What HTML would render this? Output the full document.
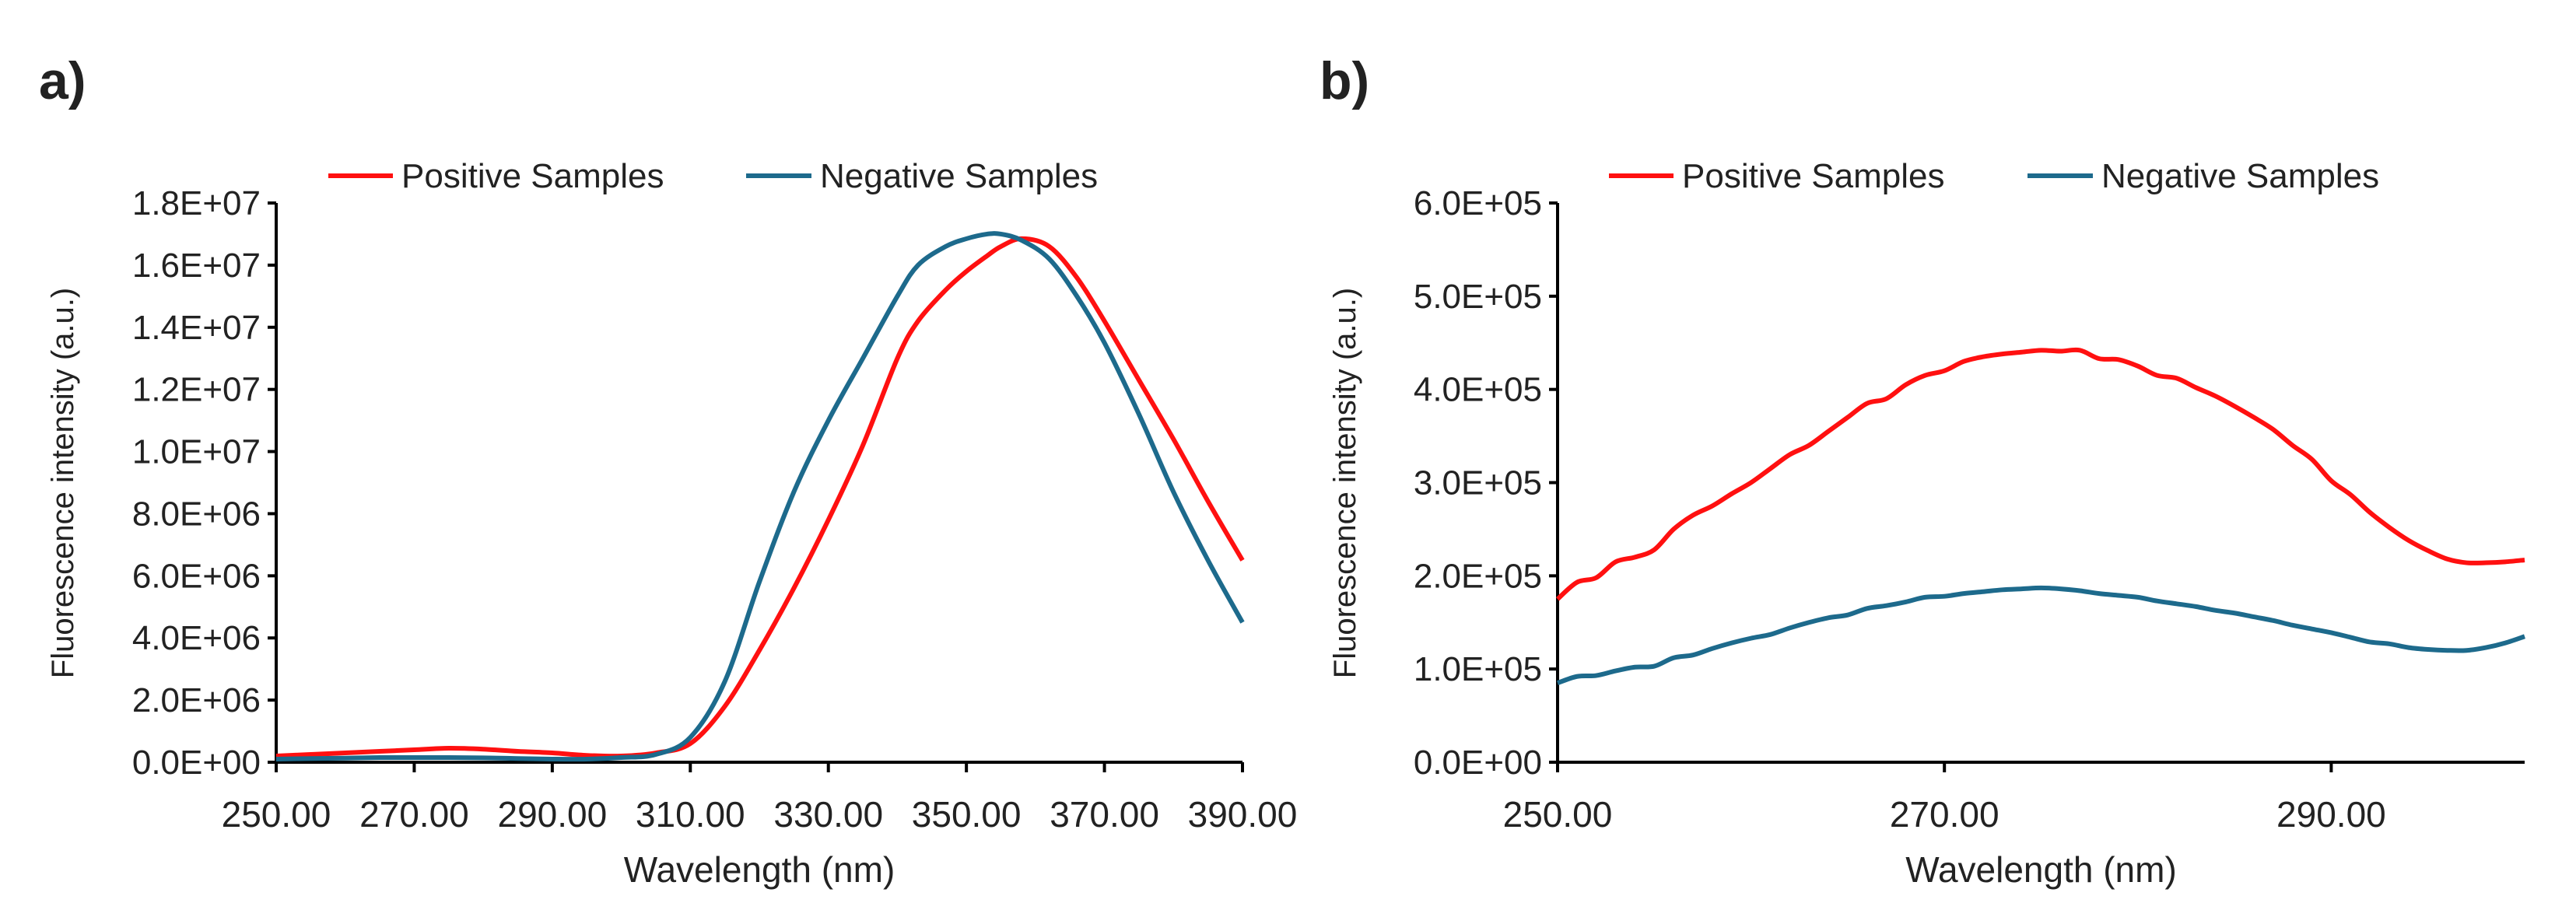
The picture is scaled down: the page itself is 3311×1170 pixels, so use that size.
<!DOCTYPE html>
<html><head><meta charset="utf-8"><style>
html,body{margin:0;padding:0;background:#fff}
svg{display:block}
text{font-family:"Liberation Sans",sans-serif;fill:#222}
</style></head><body>
<svg id="fig" width="3311" height="1170" viewBox="0 0 3311 1170" xmlns="http://www.w3.org/2000/svg">
<text x="50" y="127" font-size="68" font-weight="bold" fill="#000">a)</text>
<text x="1696" y="127" font-size="68" font-weight="bold" fill="#000">b)</text>
<g id="ga"></g>
<g id="gb"></g>
</svg>
<script>
// Chart a data
const aX = [250,255,260,265,270,275,280,285,290,295,300,305,310,315,320,325,330,335,340,343,347,350,353,355,358,362,366,370,375,380,385,390];
const aPos = [0.2,0.25,0.3,0.35,0.4,0.45,0.42,0.35,0.3,0.22,0.2,0.3,0.6,1.8,3.6,5.6,7.8,10.2,13,14.2,15.2,15.8,16.3,16.6,16.85,16.6,15.6,14.2,12.3,10.4,8.4,6.5];
const aNeg = [0.1,0.12,0.13,0.15,0.15,0.15,0.14,0.12,0.1,0.1,0.15,0.25,0.8,2.6,5.8,8.7,11,13,15,16,16.6,16.85,17,17,16.8,16.2,15,13.5,11.2,8.7,6.5,4.5];
const aYTicks = ["0.0E+00","2.0E+06","4.0E+06","6.0E+06","8.0E+06","1.0E+07","1.2E+07","1.4E+07","1.6E+07","1.8E+07"];
const aXTicks = ["250.00","270.00","290.00","310.00","330.00","350.00","370.00","390.00"];
// Chart b data
const bX = [250,251,252,253,254,255,256,257,258,259,260,261,262,263,264,265,266,267,268,269,270,271,272,273,274,275,276,277,278,279,280,281,282,283,284,285,286,287,288,289,290,291,292,293,294,295,296,297,298,299,300];
const bPos = [1.75,1.93,1.98,2.15,2.2,2.28,2.5,2.65,2.75,2.88,3.0,3.15,3.3,3.4,3.55,3.7,3.85,3.9,4.05,4.15,4.2,4.3,4.35,4.38,4.4,4.42,4.41,4.42,4.33,4.32,4.25,4.15,4.12,4.02,3.93,3.82,3.7,3.57,3.4,3.25,3.02,2.87,2.68,2.52,2.38,2.27,2.18,2.14,2.14,2.15,2.17];
const bNeg = [0.85,0.92,0.93,0.98,1.02,1.03,1.12,1.15,1.22,1.28,1.33,1.37,1.44,1.5,1.55,1.58,1.65,1.68,1.72,1.77,1.78,1.81,1.83,1.85,1.86,1.87,1.86,1.84,1.81,1.79,1.77,1.73,1.7,1.67,1.63,1.6,1.56,1.52,1.47,1.43,1.39,1.34,1.29,1.27,1.23,1.21,1.2,1.2,1.23,1.28,1.35];
const bYTicks = ["0.0E+00","1.0E+05","2.0E+05","3.0E+05","4.0E+05","5.0E+05","6.0E+05"];
const bXTicks = ["250.00","270.00","290.00"];

const NS="http://www.w3.org/2000/svg";
function mk(tag,attrs,parent){const e=document.createElementNS(NS,tag);for(const k in attrs)e.setAttribute(k,attrs[k]);parent.appendChild(e);return e;}

function chart(g,o){
  const xs=v=>o.L+(v-o.x0)/(o.x1-o.x0)*(o.R-o.L);
  const ys=v=>o.B-(v-o.y0)/(o.y1-o.y0)*(o.B-o.T);
  // y ticks
  o.yt.forEach((lab,i)=>{
    const v=o.y0+i*o.ystep, y=ys(v);
    const t=mk('line',{x1:o.L-11,x2:o.L,y1:y,y2:y,stroke:'#000','stroke-width':4},g);
    
    
    const tx=mk('text',{x:o.L-20,y:y+15,'font-size':44,'text-anchor':'end'},g);
    tx.textContent=lab;
    
    
  });
  o.xt.forEach((lab,i)=>{
    const v=o.x0+i*o.xstep, x=xs(v);
    const t=mk('line',{x1:x,x2:x,y1:o.B,y2:o.B+13,stroke:'#000','stroke-width':4},g);
    
    
    const tx=mk('text',{x:x,y:o.B+83,'font-size':46,'text-anchor':'middle'},g);
    tx.textContent=lab;
    
    
  });
  const ya=mk('line',{x1:o.L,x2:o.L,y1:o.T,y2:o.B,stroke:'#000','stroke-width':4},g);
  
  
  const xa=mk('line',{x1:o.L,x2:o.R,y1:o.B,y2:o.B,stroke:'#000','stroke-width':4},g);
  
  
  const series=[[o.pos,'#ff1010','positive-line'],[o.neg,'#1d6a8c','negative-line']];
  series.forEach(([arr,col,name])=>{
    const pts=o.x.map((v,i)=>[xs(v),ys(arr[i])]);
    let d='M'+pts[0][0]+','+pts[0][1];
    for(let i=0;i<pts.length-1;i++){
      const p0=pts[Math.max(0,i-1)],p1=pts[i],p2=pts[i+1],p3=pts[Math.min(pts.length-1,i+2)];
      const c1=[p1[0]+(p2[0]-p0[0])/6,p1[1]+(p2[1]-p0[1])/6];
      const c2=[p2[0]-(p3[0]-p1[0])/6,p2[1]-(p3[1]-p1[1])/6];
      d+=' C'+c1+' '+c2+' '+p2;
    }
    const p=mk('path',{d:d,fill:'none',stroke:col,'stroke-width':6,'stroke-linejoin':'round'},g);
    
    
  });
  const yt=mk('text',{x:0,y:0,'font-size':40,'text-anchor':'middle',transform:'translate('+(o.ytx)+',621) rotate(-90)'},g);
  yt.textContent='Fluorescence intensity (a.u.)';
  
  
  const xt=mk('text',{x:(o.L+o.R)/2,y:1134,'font-size':46,'text-anchor':'middle'},g);
  xt.textContent='Wavelength (nm)';
  
  
  // legend
  const l1=mk('line',{x1:o.lg[0],x2:o.lg[0]+83,y1:226,y2:226,stroke:'#ff1010','stroke-width':6},g);
  
  
  const t1=mk('text',{x:o.lg[0]+94,y:241,'font-size':44},g);
  t1.textContent='Positive Samples';
  
  
  const l2=mk('line',{x1:o.lg[1],x2:o.lg[1]+84,y1:226,y2:226,stroke:'#1d6a8c','stroke-width':6},g);
  
  
  const t2=mk('text',{x:o.lg[1]+95,y:241,'font-size':44},g);
  t2.textContent='Negative Samples';
  
  
}
chart(document.getElementById('ga'),{L:355,R:1597,T:261,B:980,x0:250,x1:390,y0:0,y1:18,ystep:2,xstep:20,yt:aYTicks,xt:aXTicks,x:aX,pos:aPos,neg:aNeg,ytx:94,lg:[422,959]});
chart(document.getElementById('gb'),{L:2002,R:3245,T:261,B:980,x0:250,x1:300,y0:0,y1:6,ystep:1,xstep:20,yt:bYTicks,xt:bXTicks,x:bX,pos:bPos,neg:bNeg,ytx:1742,lg:[2068,2606]});
</script>
</body></html>
